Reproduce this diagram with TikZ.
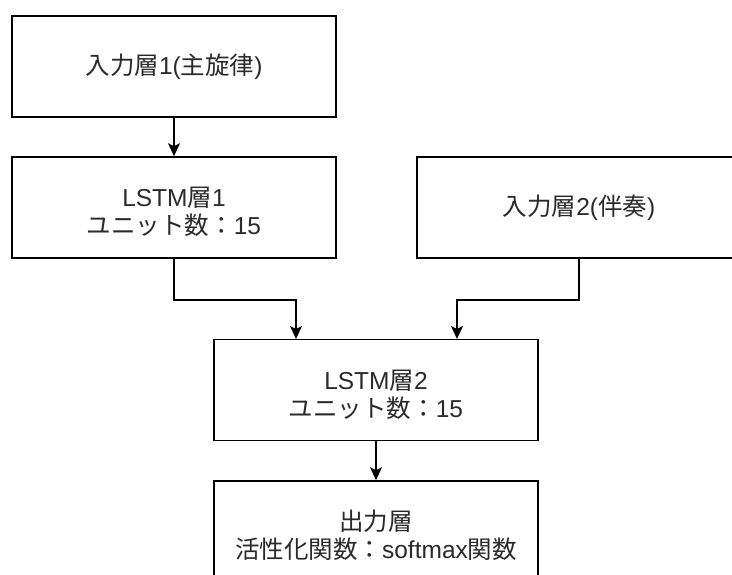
\documentclass[tikz,border=0pt]{standalone}
\usepackage{fontspec}
\setmainfont{Liberation Sans}
\newfontfamily\cjk{Noto Sans CJK JP}
\usetikzlibrary{arrows.meta}
\definecolor{txt}{HTML}{2a2a2a}
\newcommand\toppad{\rule{0pt}{29pt}}
\tikzset{
  box/.style={draw=black, line width=1.6pt, fill=white, minimum width=324pt, minimum height=101pt,
    inner sep=0pt, align=center, text=txt, font=\fontsize{24.5}{28}\selectfont},
  arr/.style={draw=black, line width=1.6pt, -{Stealth[length=13pt,width=12pt,inset=3pt]}}
}
\begin{document}
\begin{tikzpicture}[x=1pt,y=-1pt]
\useasboundingbox (0,0) rectangle (732,575);
\clip (0,0) rectangle (732,575);
\fill[white] (0,0) rectangle (732,575);
\node[box] (b1) at (174,66.5) {{\cjk 入力層}1({\cjk 主旋律})};
\node[box] (b2) at (174,207.5) {\toppad LSTM{\cjk 層}1\\{\cjk ユニット数：}15};
\node[box] (b3) at (579,207.5) {{\cjk 入力層}2({\cjk 伴奏})};
\node[box] (b4) at (376,390) {\toppad LSTM{\cjk 層}2\\{\cjk ユニット数：}15};
\node[box] (b5) at (376,531.5) {\toppad{\cjk 出力層}\\{\cjk 活性化関数：}softmax{\cjk 関数}};
\coordinate (j1) at (296,339);
\coordinate (j2) at (457,339);
\draw[arr] (b1.south) -- (b2.north);
\draw[arr] (b2.south) -- ++(0,41) -| (j1);
\draw[arr] (b3.south) -- ++(0,41) -| (j2);
\draw[arr] (b4.south) -- (b5.north);
\end{tikzpicture}
\end{document}
